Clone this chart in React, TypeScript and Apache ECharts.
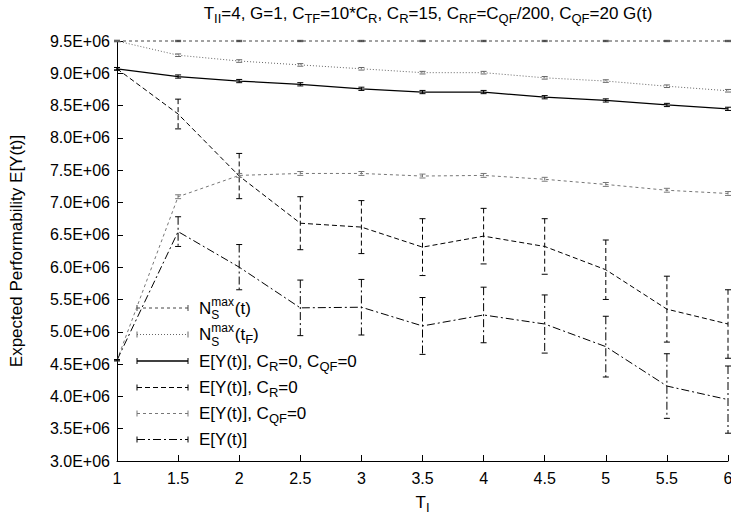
import React, { useEffect, useRef } from "react";
import * as echarts from "echarts";

const X = [1, 1.5, 2, 2.5, 3, 3.5, 4, 4.5, 5, 5.5, 6];

const nsMaxT = [9.5e6, 9.5e6, 9.5e6, 9.5e6, 9.5e6, 9.5e6, 9.5e6, 9.5e6, 9.5e6, 9.5e6, 9.5e6];
const nsMaxTF = [9.5e6, 9.28e6, 9.19e6, 9.13e6, 9.07e6, 9.01e6, 9.01e6, 8.93e6, 8.88e6, 8.8e6, 8.73e6];
const eyNoCost = [9.07e6, 8.95e6, 8.88e6, 8.83e6, 8.76e6, 8.71e6, 8.71e6, 8.63e6, 8.58e6, 8.51e6, 8.45e6];
const eyCR0 = [9.07e6, 8.37e6, 7.41e6, 6.68e6, 6.62e6, 6.31e6, 6.48e6, 6.32e6, 5.96e6, 5.35e6, 5.12e6];
const eyCQF0 = [4.56e6, 7.09e6, 7.42e6, 7.45e6, 7.45e6, 7.41e6, 7.42e6, 7.36e6, 7.28e6, 7.19e6, 7.14e6];
const ey = [4.56e6, 6.55e6, 6.0e6, 5.37e6, 5.38e6, 5.09e6, 5.26e6, 5.12e6, 4.77e6, 4.16e6, 3.95e6];

const errNsMaxT = [1e4, 1e4, 1e4, 1e4, 1e4, 1e4, 1e4, 1e4, 1e4, 1e4, 1e4];
const errNsMaxTF = [1e4, 2e4, 2e4, 2e4, 2e4, 2e4, 2e4, 2e4, 2e4, 2e4, 2e4];
const errEyNoCost = [2e4, 2.5e4, 2.5e4, 2.5e4, 2.5e4, 2.5e4, 2.5e4, 2.5e4, 2.5e4, 2.5e4, 2.5e4];
const errEyCR0 = [2e4, 2.3e5, 3.5e5, 4.1e5, 4.1e5, 4.4e5, 4.3e5, 4.3e5, 4.6e5, 5.1e5, 5.3e5];
const errEyCQF0 = [1e4, 3e4, 3e4, 3e4, 3e4, 3e4, 3e4, 3e4, 3e4, 3e4, 3e4];
const errEy = [1e4, 2.3e5, 3.5e5, 4.3e5, 4.3e5, 4.4e5, 4.3e5, 4.5e5, 4.7e5, 5.0e5, 5.2e5];

const Y_MIN = 3.0e6;
const Y_MAX = 9.5e6;
const Y_STEP = 5e5;

const FONT = "'Liberation Sans', Arial, Helvetica, sans-serif";

type S = {
  name: string;
  values: number[];
  errs: number[];
  color: string;
  dash: number[] | null;
  width: number;
};

const SERIES: S[] = [
  { name: "N_S^max(t)", values: nsMaxT, errs: errNsMaxT, color: "#444444", dash: [3, 3], width: 1 },
  { name: "N_S^max(t_F)", values: nsMaxTF, errs: errNsMaxTF, color: "#666666", dash: [1, 2], width: 1 },
  { name: "E[Y(t)], C_R=0, C_QF=0", values: eyNoCost, errs: errEyNoCost, color: "#000000", dash: null, width: 1.3 },
  { name: "E[Y(t)], C_R=0", values: eyCR0, errs: errEyCR0, color: "#000000", dash: [5, 3], width: 1 },
  { name: "E[Y(t)], C_QF=0", values: eyCQF0, errs: errEyCQF0, color: "#777777", dash: [3, 3], width: 1 },
  { name: "E[Y(t)]", values: ey, errs: errEy, color: "#000000", dash: [8, 3, 2, 3], width: 1 },
];

// legend texts: for the first two, the stacked "max"/"S" part is drawn separately
const LEGEND_TAIL: string[] = [
  "{n|(t)}",
  "{n|(t}{sub|F}{n|)}",
  "{n|E[Y(t)], C}{sub|R}{n|=0, C}{sub|QF}{n|=0}",
  "{n|E[Y(t)], C}{sub|R}{n|=0}",
  "{n|E[Y(t)], C}{sub|QF}{n|=0}",
  "{n|E[Y(t)]}",
];

const TITLE_RICH =
  "{n|T}{sub|II}{n|=4, G=1, C}{sub|TF}{n|=10*C}{sub|R}{n|, C}{sub|R}{n|=15, C}{sub|RF}{n|=C}{sub|QF}{n|/200, C}{sub|QF}{n|=20 G(t)}";

const richStyles = (main: number, small: number) => ({
  n: { fontSize: main, fontFamily: FONT, color: "#000", fontWeight: "normal", lineHeight: 20 },
  sub: { fontSize: small, fontFamily: FONT, color: "#000", fontWeight: "normal", lineHeight: 20, padding: [10, 0, 0, 0] },
  sup: { fontSize: small, fontFamily: FONT, color: "#000", fontWeight: "normal", lineHeight: 20, padding: [0, 0, 10, 0] },
});

export default function App() {
  const ref = useRef<HTMLDivElement>(null);

  useEffect(() => {
    if (!ref.current) return;
    const chart = echarts.init(ref.current, null, { renderer: "svg" });

    const lineSeries = SERIES.map((s) => ({
      type: "line",
      name: s.name,
      data: X.map((x, i) => [x, s.values[i]]),
      symbol: "none",
      clip: false,
      lineStyle: {
        color: s.color,
        width: s.width,
        type: s.dash ? s.dash : "solid",
      },
      z: 3,
    }));

    const errSeries = SERIES.map((s) => ({
      type: "custom",
      name: s.name + " err",
      data: X.map((x, i) => [x, s.values[i], s.errs[i]]),
      encode: { x: 0, y: 1 },
      clip: false,
      z: 4,
      renderItem: (params: any, api: any) => {
        const x = api.value(0);
        const v = api.value(1);
        const e = api.value(2);
        const top = api.coord([x, v + e]);
        const bot = api.coord([x, v - e]);
        const w = 3;
        const st: any = { stroke: s.color, lineWidth: 1, fill: "none" };
        if (s.dash) st.lineDash = s.dash;
        const cap = { stroke: s.color, lineWidth: 1, fill: "none" };
        return {
          type: "group",
          children: [
            { type: "line", shape: { x1: top[0], y1: top[1], x2: bot[0], y2: bot[1] }, style: st },
            { type: "line", shape: { x1: top[0] - w, y1: top[1], x2: top[0] + w, y2: top[1] }, style: cap },
            { type: "line", shape: { x1: bot[0] - w, y1: bot[1], x2: bot[0] + w, y2: bot[1] }, style: cap },
          ],
        };
      },
    }));

    // legend built with graphic elements
    const legendX0 = 137;
    const legendX1 = 188;
    const textX = 199;
    const rowY = [308, 334.5, 361, 387.5, 413.5, 439.5];
    const legendGraphics: any[] = [];
    SERIES.forEach((s, i) => {
      const y = rowY[i];
      const ls: any = { stroke: s.color, lineWidth: s.width, fill: "none" };
      if (s.dash) ls.lineDash = s.dash;
      legendGraphics.push({ type: "line", shape: { x1: legendX0, y1: y, x2: legendX1, y2: y }, style: ls });
      legendGraphics.push({ type: "line", shape: { x1: legendX0, y1: y - 3, x2: legendX0, y2: y + 3 }, style: { stroke: s.color, lineWidth: 1 } });
      legendGraphics.push({ type: "line", shape: { x1: legendX1, y1: y - 3, x2: legendX1, y2: y + 3 }, style: { stroke: s.color, lineWidth: 1 } });
      if (i < 2) {
        legendGraphics.push({
          type: "text",
          x: textX,
          y: y,
          style: { text: "N", fontSize: 17, fontFamily: FONT, fill: "#000", verticalAlign: "middle", align: "left" },
        });
        legendGraphics.push({
          type: "text",
          x: textX + 12.3,
          y: y - 6.5,
          style: { text: "max", fontSize: 12, fontFamily: FONT, fill: "#000", verticalAlign: "middle", align: "left" },
        });
        legendGraphics.push({
          type: "text",
          x: textX + 12.3,
          y: y + 7,
          style: { text: "S", fontSize: 12, fontFamily: FONT, fill: "#000", verticalAlign: "middle", align: "left" },
        });
        legendGraphics.push({
          type: "text",
          x: textX + 12.3 + 23.5,
          y: y,
          style: { text: LEGEND_TAIL[i], rich: richStyles(17, 13), verticalAlign: "middle", align: "left" },
        });
      } else {
        legendGraphics.push({
          type: "text",
          x: textX,
          y: y,
          style: { text: LEGEND_TAIL[i], rich: richStyles(17, 13), verticalAlign: "middle", align: "left" },
        });
      }
    });

    const option: any = {
      animation: false,
      backgroundColor: "#fff",
      title: {
        text: TITLE_RICH,
        left: 423,
        top: -2,
        textAlign: "center",
        textStyle: { fontWeight: "normal", rich: richStyles(17, 13) },
      },
      grid: { left: 117, right: 3, top: 41, bottom: 57, containLabel: false, outerBoundsMode: "none" },
      xAxis: {
        type: "value",
        min: 1,
        max: 6,
        interval: 0.5,
        name: "{n|T}{sub|I}",
        nameLocation: "middle",
        nameGap: 24,
        nameTextStyle: { rich: richStyles(17, 13) },
        axisLine: { show: true, onZero: false, lineStyle: { color: "#000", width: 1 } },
        axisTick: { show: true, inside: true, length: 6, lineStyle: { color: "#000" } },
        axisLabel: {
          color: "#000",
          fontSize: 16,
          fontFamily: FONT,
          margin: 9,
          hideOverlap: false,
          showMaxLabel: true,
          showMinLabel: true,
        },
        splitLine: { show: false },
      },
      yAxis: {
        type: "value",
        min: Y_MIN,
        max: Y_MAX,
        interval: Y_STEP,
        name: "Expected Performability E[Y(t)]",
        nameLocation: "middle",
        nameGap: 92,
        nameTextStyle: { color: "#000", fontSize: 17, fontFamily: FONT },
        axisLine: { show: true, onZero: false, lineStyle: { color: "#000", width: 1 } },
        axisTick: { show: true, inside: true, length: 6, lineStyle: { color: "#000" } },
        axisLabel: {
          color: "#000",
          fontSize: 16,
          fontFamily: FONT,
          margin: 7,
          formatter: (v: number) => (v / 1e6).toFixed(1) + "E+06",
        },
        splitLine: { show: false },
      },
      graphic: legendGraphics,
      series: [...lineSeries, ...errSeries],
    };

    chart.setOption(option);
    return () => chart.dispose();
  }, []);

  return (
    <div
      ref={ref}
      style={{ position: "fixed", left: 0, top: 0, width: 731, height: 518, overflow: "visible" }}
    />
  );
}
